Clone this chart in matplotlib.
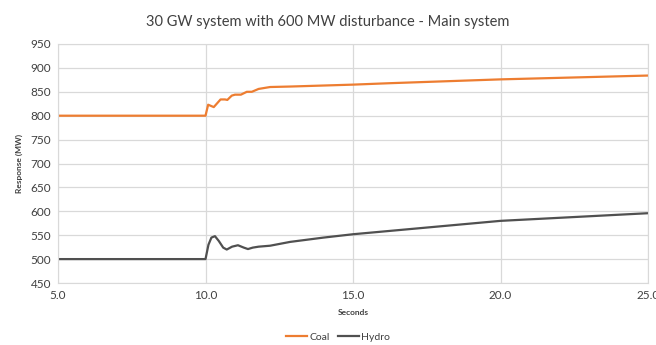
import matplotlib
matplotlib.use("Agg")
import matplotlib.pyplot as plt

plt.rcParams['font.family'] = ['Lato', 'DejaVu Sans']

# data
coal_t = [5.0, 10.0, 10.09, 10.28, 10.51, 10.66, 10.74, 10.89, 11.0, 11.2, 11.4, 11.57,
          11.8, 12.19, 12.87, 15.0, 16.25, 20.0, 25.0]
coal_mw = [800, 800, 823, 818, 834, 834, 833, 842, 844, 844, 850, 850,
           856, 860, 861, 865, 868, 876, 884]

hydro_t = [5.0, 10.0, 10.1, 10.2, 10.32, 10.45, 10.6, 10.72, 10.9, 11.1, 11.3, 11.44,
           11.6, 11.8, 12.19, 12.87, 14.0, 15.0, 16.25, 20.0, 25.0]
hydro_mw = [500, 500, 530, 545, 548, 538, 524, 520, 526, 529, 524, 521,
            524, 526, 528, 536, 545, 552, 559, 580, 596]

fig = plt.figure(figsize=(6.56, 3.45), dpi=100)
ax = fig.add_axes([58/656, 1 - 283/345, 590/656, 239/345])

ax.plot(coal_t, coal_mw, color='#ED7D31', lw=1.6, label='Coal')
ax.plot(hydro_t, hydro_mw, color='#505050', lw=1.6, label='Hydro')

ax.set_xlim(5, 25)
ax.set_ylim(450, 950)
ax.set_xticks([5, 10, 15, 20, 25])
ax.set_xticklabels(['5.0', '10.0', '15.0', '20.0', '25.0'])
ax.set_yticks(range(450, 951, 50))
ax.grid(True, color='#d9d9d9', lw=0.9)
ax.set_axisbelow(True)
for s in ax.spines.values():
    s.set_color('#d9d9d9')
ax.tick_params(length=0, labelsize=8.5, colors='#404040', pad=5)

fig.text(0.5, 1 - 22/345, '30 GW system with 600 MW disturbance - Main system',
         ha='center', va='center', fontsize=10.5, color='#404040')
ax.set_xlabel('Seconds', fontsize=6, fontweight='bold', color='#404040', labelpad=6)
ax.set_ylabel('Response (MW)', fontsize=6, fontweight='bold', color='#404040', labelpad=5)

fig.legend(loc='center', bbox_to_anchor=(338/656, 1 - 337/345), ncol=2, frameon=False,
           fontsize=7.5, handlelength=2.0, handletextpad=0.2, columnspacing=0.8,
           labelcolor='#404040')

fig.savefig('out.png', dpi=100)
